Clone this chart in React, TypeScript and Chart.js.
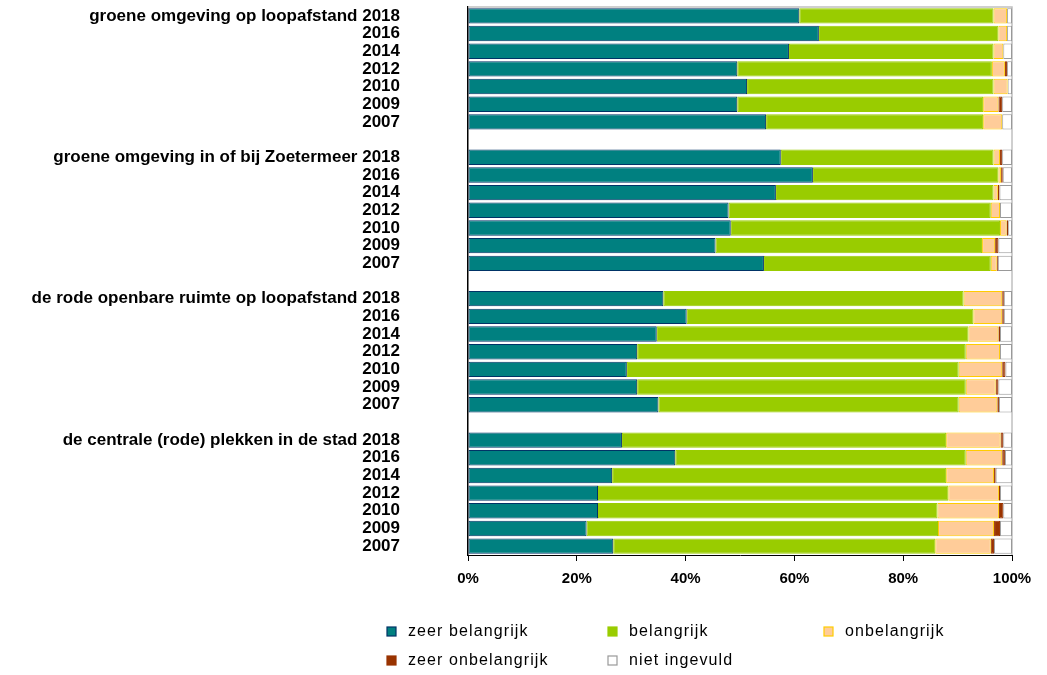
import React, { useEffect, useRef } from "react";
import { Chart, registerables } from "chart.js";

Chart.register(...registerables);

const groups = [
  "groene omgeving op loopafstand",
  "groene omgeving in of bij Zoetermeer",
  "de rode openbare ruimte op loopafstand",
  "de centrale (rode) plekken in de stad",
];
const years = ["2018", "2016", "2014", "2012", "2010", "2009", "2007"];

// values per group, in year order above (percent)
const zeerBelangrijk = [
  [60.9, 64.5, 59.0, 49.5, 51.3, 49.5, 54.8],
  [57.5, 63.4, 56.6, 47.9, 48.3, 45.5, 54.4],
  [35.9, 40.2, 34.7, 31.1, 29.2, 31.1, 35.0],
  [28.3, 38.1, 26.5, 23.9, 23.9, 21.8, 26.7],
];
const belangrijk = [
  [35.7, 33.0, 37.6, 46.8, 45.3, 45.2, 39.9],
  [39.1, 34.1, 40.0, 48.2, 49.5, 49.0, 41.7],
  [55.2, 52.7, 57.3, 60.4, 61.0, 60.4, 55.2],
  [59.6, 53.4, 61.4, 64.4, 62.4, 64.6, 59.2],
];
const onbelangrijk = [
  [2.5, 1.6, 1.8, 2.4, 2.6, 2.8, 3.5],
  [1.2, 0.5, 0.8, 1.7, 1.2, 2.4, 1.1],
  [7.1, 5.3, 5.5, 6.3, 8.0, 5.5, 7.1],
  [10.0, 6.7, 8.8, 9.3, 11.3, 10.3, 10.2],
];
const zeerOnbelangrijk = [
  [0, 0, 0, 0.4, 0, 0.7, 0],
  [0.4, 0.3, 0.3, 0, 0.3, 0.6, 0.2],
  [0.3, 0.3, 0.3, 0, 0.6, 0.5, 0.3],
  [0.5, 0.5, 0.3, 0.2, 0.8, 1.1, 0.6],
];
const nietIngevuld = [
  [0.9, 0.9, 1.6, 0.9, 0.8, 1.8, 1.8],
  [1.8, 1.7, 2.3, 2.2, 0.7, 2.5, 2.6],
  [1.5, 1.5, 2.2, 2.2, 1.2, 2.5, 2.4],
  [1.6, 1.3, 3.0, 2.2, 1.6, 2.2, 3.3],
];

const xTicks = [0, 20, 40, 60, 80, 100];

const FONT = "'Liberation Sans', Arial, sans-serif";

function withGaps(series: number[][]): (number | null)[] {
  const out: (number | null)[] = [];
  series.forEach((g, i) => {
    if (i > 0) out.push(null);
    g.forEach((v) => out.push(v));
  });
  return out;
}

function buildLabels(): string[] {
  const out: string[] = [];
  groups.forEach((g, i) => {
    if (i > 0) out.push("");
    years.forEach((y, j) => out.push(j === 0 ? `${g} ${y}` : y));
  });
  return out;
}

const frameAndLegend = {
  id: "frameAndLegend",
  beforeDatasetsDraw(chart: any) {
    const { ctx, chartArea } = chart;
    ctx.save();
    ctx.strokeStyle = "#C0C0C0";
    ctx.lineWidth = 1.5;
    ctx.beginPath();
    ctx.moveTo(chartArea.left, chartArea.top);
    ctx.lineTo(chartArea.right, chartArea.top);
    ctx.lineTo(chartArea.right, chartArea.bottom);
    ctx.stroke();
    ctx.restore();
  },
  afterDraw(chart: any) {
    const { ctx, chartArea } = chart;
    const cols = [chartArea.left - 77, chartArea.left + 144, chartArea.left + 360];
    const rows = [chartArea.bottom + 77, chartArea.bottom + 106];
    ctx.save();
    ctx.font = `16px ${FONT}`;
    (ctx as any).letterSpacing = "1.1px";
    ctx.textBaseline = "middle";
    ctx.fillStyle = "#000";
    chart.data.datasets.forEach((ds: any, i: number) => {
      const x = cols[i % 3];
      const y = rows[Math.floor(i / 3)];
      ctx.fillStyle = ds.backgroundColor;
      ctx.fillRect(x - 4, y - 5, 9, 9);
      ctx.strokeStyle = ds.legendBorder;
      ctx.lineWidth = 1.2;
      ctx.strokeRect(x - 4, y - 5, 9, 9);
      ctx.fillStyle = "#000";
      ctx.fillText(ds.label, x + 17, y);
    });
    ctx.restore();
  },
};

export default function App() {
  const ref = useRef<HTMLCanvasElement>(null);
  useEffect(() => {
    document.body.style.margin = "0";
    const labels = buildLabels();
    const chart = new Chart(ref.current!, {
      type: "bar",
      data: {
        labels,
        datasets: [
          { label: "zeer belangrijk", data: withGaps(zeerBelangrijk), backgroundColor: "#008080", borderColor: "#003366", legendBorder: "#003366" } as any,
          { label: "belangrijk", data: withGaps(belangrijk), backgroundColor: "#99CC00", borderColor: "#99CC00", legendBorder: "#99CC00" } as any,
          { label: "onbelangrijk", data: withGaps(onbelangrijk), backgroundColor: "#FFCC99", borderColor: "#FFCC00", legendBorder: "#FFCC00" } as any,
          { label: "zeer onbelangrijk", data: withGaps(zeerOnbelangrijk), backgroundColor: "#993300", borderColor: "#993300", legendBorder: "#993300" } as any,
          { label: "niet ingevuld", data: withGaps(nietIngevuld), backgroundColor: "#FFFFFF", borderColor: "#999999", legendBorder: "#999999" } as any,
        ].map((d: any) => ({
          ...d,
          borderWidth: 1,
          borderSkipped: false,
          barPercentage: 0.87,
          categoryPercentage: 1,
        })),
      },
      options: {
        animation: false,
        responsive: false,
        indexAxis: "y",
        layout: { padding: { top: 7, right: 35, left: 0, bottom: 0 } },
        plugins: { legend: { display: false }, tooltip: { enabled: false } },
        scales: {
          x: {
            stacked: true,
            min: 0,
            max: 100,
            afterBuildTicks: (s: any) => {
              s.ticks = xTicks.map((v) => ({ value: v }));
            },
            afterFit: (s: any) => {
              s.height = 120;
            },
            grid: { display: true, drawOnChartArea: false, drawTicks: true, tickLength: 6, color: "#000" },
            border: { display: true, color: "#000", width: 1 },
            ticks: {
              color: "#000",
              padding: 9,
              font: { family: FONT, size: 15, weight: "bold" },
              callback: (v: any) => `${v}%`,
            },
          },
          y: {
            stacked: true,
            afterFit: (s: any) => {
              s.width = 468;
              s.paddingTop = 0;
              s.paddingBottom = 0;
            },
            grid: { display: false, drawTicks: false },
            border: { display: true, color: "#000", width: 1.5 },
            ticks: {
              autoSkip: false,
              color: "#000",
              padding: 68,
              font: { family: FONT, size: 17, weight: "bold" },
            },
          },
        },
      } as any,
      plugins: [frameAndLegend],
    });
    return () => chart.destroy();
  }, []);
  return (
    <div style={{ position: "absolute", left: 0, top: 0, width: 1047, height: 675 }}>
      <canvas ref={ref} width={1047} height={675} style={{ width: 1047, height: 675 }} />
    </div>
  );
}
